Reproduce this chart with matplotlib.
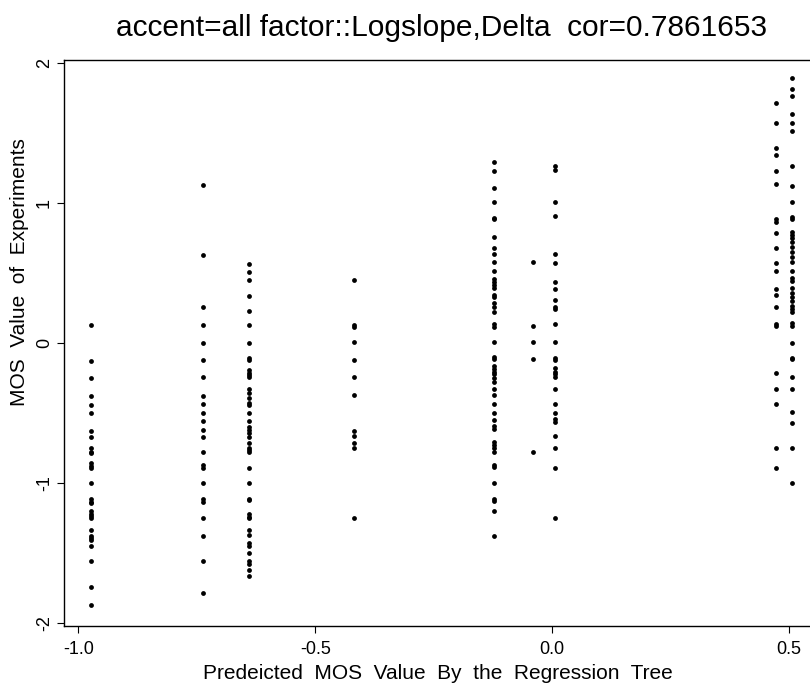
import matplotlib
matplotlib.use("Agg")
import matplotlib.pyplot as plt

plt.rcParams['font.family'] = ['Liberation Sans', 'DejaVu Sans']

# predicted values (one per leaf of the tree) and the observed MOS values in each leaf
pred_x = [-0.972, -0.736, -0.640, -0.418, -0.122, -0.040, 0.006, 0.472, 0.506]

obs_1 = [0.129, -0.126, -0.248, -0.376, -0.443, -0.502, -0.629, -0.669, -0.752, -0.776,
         -0.788, -0.860, -0.879, -0.895, -1.002, -1.117, -1.133, -1.145, -1.198, -1.217,
         -1.236, -1.252, -1.336, -1.379, -1.395, -1.407, -1.450, -1.557, -1.745, -1.871]
obs_2 = [1.129, 0.629, 0.255, 0.129, 0.002, -0.121, -0.245, -0.376, -0.438, -0.498,
         -0.555, -0.621, -0.669, -0.779, -0.871, -0.890, -1.002, -1.117, -1.133, -1.252,
         -1.379, -1.555, -1.781]
obs_3 = [0.564, 0.510, 0.450, 0.338, 0.229, 0.131, 0.002, -0.110, -0.121, -0.193,
         -0.212, -0.229, -0.245, -0.329, -0.355, -0.390, -0.431, -0.443, -0.498, -0.555,
         -0.602, -0.621, -0.645, -0.669, -0.717, -0.752, -0.764, -0.776, -0.890, -1.002,
         -1.110, -1.121, -1.217, -1.240, -1.252, -1.336, -1.371, -1.431, -1.450, -1.498,
         -1.555, -1.574, -1.617, -1.664]
obs_4 = [0.450, 0.129, 0.117, 0.005, -0.119, -0.245, -0.371, -0.626, -0.664, -0.712,
         -0.752, -1.248]
obs_5 = [1.295, 1.229, 1.109, 1.010, 0.895, 0.883, 0.755, 0.676, 0.633, 0.581,
         0.517, 0.455, 0.438, 0.414, 0.390, 0.343, 0.331, 0.283, 0.260, 0.224,
         0.136, 0.117, 0.005, -0.102, -0.117, -0.164, -0.188, -0.205, -0.221, -0.248,
         -0.276, -0.331, -0.371, -0.436, -0.498, -0.550, -0.593, -0.617, -0.705, -0.729,
         -0.752, -0.776, -0.871, -0.883, -0.998, -1.110, -1.126, -1.200, -1.379]
obs_6 = [0.581, 0.121, 0.005, -0.117, -0.776]
obs_7 = [1.264, 1.236, 1.010, 0.910, 0.633, 0.569, 0.438, 0.383, 0.307, 0.260,
         0.240, 0.136, 0.005, -0.110, -0.121, -0.181, -0.205, -0.221, -0.240, -0.331,
         -0.436, -0.498, -0.545, -0.562, -0.664, -0.748, -0.890, -1.252]
obs_8 = [1.712, 1.569, 1.390, 1.343, 1.231, 1.136, 0.883, 0.867, 0.788, 0.676,
         0.574, 0.517, 0.383, 0.343, 0.260, 0.133, 0.121, -0.217, -0.331, -0.438,
         -0.748, -0.895]
obs_9 = [1.890, 1.812, 1.764, 1.636, 1.569, 1.514, 1.260, 1.121, 1.010, 0.898,
         0.883, 0.795, 0.771, 0.748, 0.724, 0.688, 0.652, 0.617, 0.581, 0.517,
         0.462, 0.445, 0.390, 0.355, 0.326, 0.302, 0.264, 0.240, 0.224, 0.140,
         0.121, 0.002, -0.105, -0.117, -0.245, -0.331, -0.495, -0.569, -0.748, -1.002]

observed = [obs_1, obs_2, obs_3, obs_4, obs_5, obs_6, obs_7, obs_8, obs_9]

x_ticks = [-1.0, -0.5, 0.0, 0.5]
x_tick_labels = ['-1.0', '-0.5', '0.0', '0.5']
y_ticks = [-2, -1, 0, 1, 2]
y_tick_labels = ['-2', '-1', '0', '1', '2']

fig = plt.figure(figsize=(8.1, 6.89), dpi=100)
ax = fig.add_axes([64 / 810, 63 / 689, 748 / 810, 566 / 689])

for px, vals in zip(pred_x, observed):
    ax.scatter([px] * len(vals), vals, s=12, color='black', linewidths=0, zorder=3)

ax.set_xlim(-1.030, 0.548)
ax.set_ylim(-2.02, 2.02)

ax.set_xticks(x_ticks)
ax.set_xticklabels(x_tick_labels, fontsize=13)
ax.set_yticks(y_ticks)
ax.set_yticklabels(y_tick_labels, fontsize=13, rotation=90, va='center')
ax.tick_params(direction='out', length=5, width=0.8, pad=3)
ax.tick_params(axis='x', pad=6)

for sp in ax.spines.values():
    sp.set_linewidth(1.0)

ax.set_xlabel('Predeicted  MOS  Value  By  the  Regression  Tree', fontsize=15, labelpad=4)
fig.text(20 / 810, 1 - 272 / 689, 'MOS  Value  of  Experiments', fontsize=15,
         rotation=90, ha='center', va='center')
fig.text(442 / 810, 1 - 28 / 689, 'accent=all factor::Logslope,Delta  cor=0.7861653',
         fontsize=21.5, ha='center', va='center')

fig.savefig('out.png', dpi=100)
